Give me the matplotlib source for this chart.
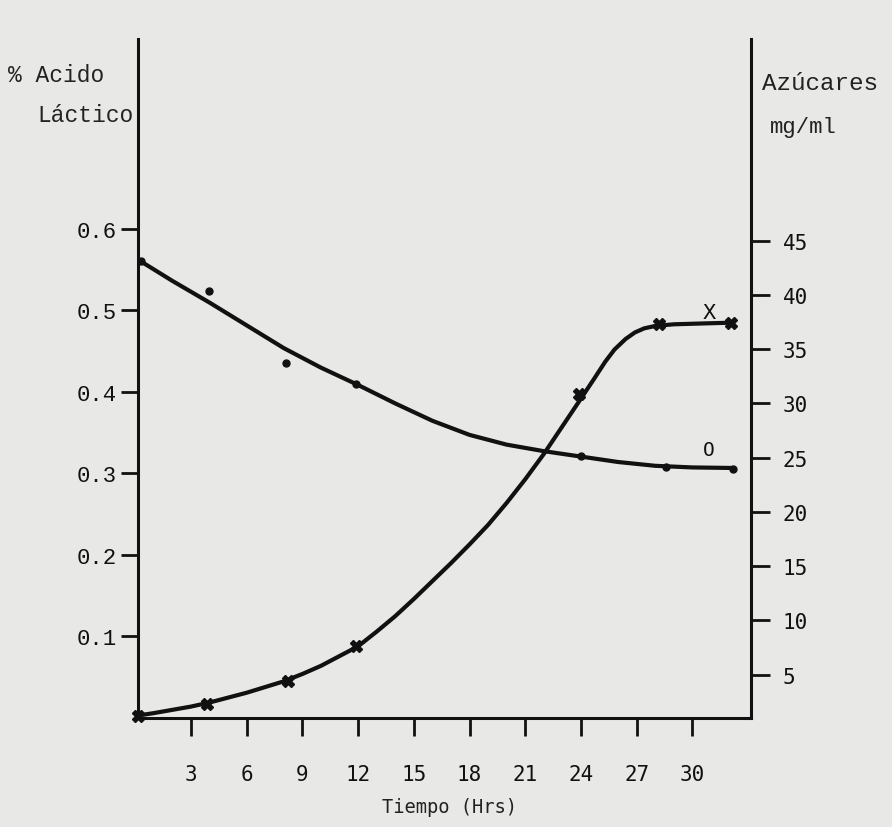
import matplotlib
matplotlib.use('Agg')
import matplotlib.pyplot as plt

# tiempo (hrs) and % acido lactico, marked points (X)
t_acido = [0.15, 3.85, 8.2, 11.9, 23.9, 28.2, 32.1]
acido = [0.003, 0.017, 0.045, 0.088, 0.398, 0.483, 0.484]

# tiempo (hrs) and azucares mg/ml, marked points (O)
t_azucar = [0.3, 3.95, 8.1, 11.9, 24.0, 28.6, 32.2]
azucar = [43.1, 40.4, 33.7, 31.8, 25.2, 24.1, 24.0]

# hand drawn smooth curves
curva_t_acido = [0.15, 1, 2, 3, 4, 5, 6, 7, 8, 9, 10, 11, 12, 13, 14, 15, 16, 17, 18, 19, 20,
                 21, 22, 23, 24, 24.7, 25.3, 25.8, 26.4, 26.9, 27.4, 28.0, 29.0, 30.5, 32.1]
curva_acido = [0.003, 0.006, 0.010, 0.014, 0.019, 0.025, 0.031, 0.038, 0.045, 0.054, 0.064,
               0.076, 0.088, 0.106, 0.125, 0.146, 0.168, 0.190, 0.213, 0.237, 0.264,
               0.293, 0.324, 0.358, 0.392, 0.416, 0.437, 0.452, 0.465, 0.473, 0.478,
               0.481, 0.483, 0.484, 0.485]
curva_t_azucar = [0.3, 2, 4, 6, 8, 10, 12, 14, 16, 18, 20, 22, 24, 26, 28, 30, 32.2]
curva_azucar = [43.1, 41.3, 39.3, 37.2, 35.1, 33.3, 31.7, 30.0, 28.4, 27.1, 26.2, 25.6,
                25.1, 24.6, 24.25, 24.1, 24.05]

x_ticks = [3, 6, 9, 12, 15, 18, 21, 24, 27, 30]
y_ticks_izq = [0.1, 0.2, 0.3, 0.4, 0.5, 0.6]
y_ticks_der = [5, 10, 15, 20, 25, 30, 35, 40, 45]

papel = '#e8e8e6'
tinta = '#111111'
maquina = 'Liberation Mono'
fina = 'DejaVu Sans Mono'

fig = plt.figure(figsize=(8.92, 8.28), dpi=100, facecolor=papel)
ax = fig.add_axes([138 / 892, 109 / 828, 613 / 892, 679 / 828])
ax.set_facecolor(papel)
ax2 = ax.twinx()

ax.set_xlim(0.15, 33.15)
ax.set_ylim(0, 0.833)
ax2.set_ylim(1.0, 63.6)

for a in (ax, ax2):
    for s in a.spines.values():
        s.set_linewidth(2.2)
        s.set_color(tinta)
    a.spines['top'].set_visible(False)
ax2.spines['left'].set_visible(False)
ax2.spines['bottom'].set_visible(False)
ax.spines['right'].set_visible(False)

ax.plot(curva_t_acido, curva_acido, color=tinta, lw=3, solid_capstyle='round',
        solid_joinstyle='round', clip_on=False)
ax.plot(t_acido, acido, 'X', color=tinta, ms=8, clip_on=False)
ax2.plot(curva_t_azucar, curva_azucar, color=tinta, lw=3, solid_capstyle='round',
         solid_joinstyle='round', clip_on=False)
ax2.plot(t_azucar, azucar, 'o', color=tinta, ms=5, clip_on=False)

ax.text(30.9, 0.498, 'X', fontfamily=maquina, fontsize=16, color=tinta, ha='center', va='center')
ax2.text(30.9, 25.8, 'O', fontfamily=fina, fontsize=14, color=tinta, ha='center', va='center')

ax.set_xticks(x_ticks)
ax.set_xticklabels([str(v) for v in x_ticks], fontfamily=fina, fontsize=15, color='#222222')
ax.tick_params(axis='x', direction='out', length=13, width=2, pad=20, colors=tinta)
ax.set_yticks(y_ticks_izq)
ax.set_yticklabels([f'{v:.1f}' for v in y_ticks_izq], fontfamily=maquina, fontsize=16, color='#222222')
ax.tick_params(axis='y', direction='out', length=12, width=2, pad=3, colors=tinta)
ax2.set_yticks(y_ticks_der)
ax2.set_yticklabels([str(v) for v in y_ticks_der], fontfamily=fina, fontsize=15, color='#222222')
ax2.tick_params(axis='y', direction='out', length=14, width=2, pad=9, colors=tinta)

fig.text(450 / 892, 1 - 808 / 828, 'Tiempo (Hrs)', fontfamily=fina, fontsize=13.5,
         color='#222222', ha='center', va='center')
fig.text(8 / 892, 1 - 75 / 828, '% Acido', fontfamily=maquina, fontsize=16.5,
         color='#222222', ha='left', va='center')
fig.text(37 / 892, 1 - 115 / 828, 'Láctico', fontfamily=maquina, fontsize=16.5,
         color='#222222', ha='left', va='center')
fig.text(762 / 892, 1 - 83 / 828, 'Azúcares', fontfamily=maquina, fontsize=17.5,
         color='#222222', ha='left', va='center')
fig.text(770 / 892, 1 - 128 / 828, 'mg/ml', fontfamily=maquina, fontsize=16,
         color='#222222', ha='left', va='center')

fig.savefig('out.png', dpi=100, facecolor=papel)
